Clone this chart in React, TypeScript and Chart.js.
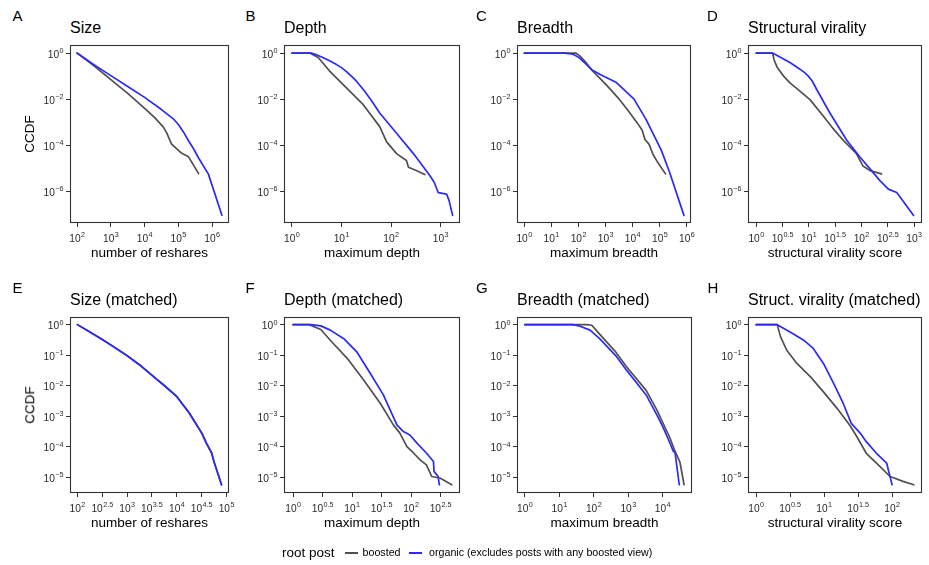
import React, { useEffect, useRef } from 'react';
import { Chart, registerables } from 'chart.js';

Chart.register(...registerables);

// ---------- data ----------
// A: Size
const sizeOrganicX = [100, 316, 1000, 3160, 10000, 31600, 70800, 100000, 141000, 200000, 282000, 398000, 776000, 1950000];
const sizeOrganicY = [1, 0.316, 0.105, 0.0355, 0.012, 0.00355, 0.00141, 0.000794, 0.00038, 0.000158, 7.08e-5, 2.82e-5, 5.62e-6, 9.3e-8];
const sizeBoostedX = [100, 316, 1000, 3160, 10000, 19950, 35500, 44700, 63100, 126000, 200000, 398000];
const sizeBoostedY = [1, 0.282, 0.0708, 0.0178, 0.00398, 0.00158, 0.000631, 0.000355, 0.000112, 4.47e-5, 3.16e-5, 5.89e-6];
// B: Depth
const depthOrganicX = [1, 2.45, 3.16, 3.98, 5.75, 7.94, 10, 12.6, 15.8, 20, 27.5, 39.8, 58.9, 129, 282, 603, 741, 891, 1320, 1480, 1740];
const depthOrganicY = [1, 1, 0.832, 0.676, 0.468, 0.316, 0.234, 0.158, 0.1, 0.0603, 0.0263, 0.00891, 0.00251, 0.000331, 4.37e-5, 4.9e-6, 2.51e-6, 8.91e-7, 7.59e-7, 3.98e-7, 9.12e-8];
const depthBoostedX = [1, 2.29, 3.39, 5.75, 12.6, 27.5, 58.9, 81.3, 129, 204, 224, 331, 479];
const depthBoostedY = [1, 1, 0.646, 0.166, 0.0309, 0.00575, 0.000646, 0.000141, 4.37e-5, 2.19e-5, 1.12e-5, 7.94e-6, 5.37e-6];
// C: Breadth
const breadthOrganicX = [1, 31.6, 63.1, 100, 178, 316, 631, 2510, 11200, 31600, 112000, 229000, 776000];
const breadthOrganicY = [1, 1, 0.891, 0.661, 0.355, 0.186, 0.117, 0.0525, 0.01, 0.00126, 6.31e-5, 6.76e-6, 9.12e-8];
const breadthBoostedX = [1, 79.4, 112, 200, 316, 1000, 3160, 6310, 15100, 22400, 28200, 39800, 56200, 79400, 162000];
const breadthBoostedY = [1, 1, 0.759, 0.355, 0.178, 0.0447, 0.01, 0.00355, 0.000891, 0.000447, 0.000178, 0.000112, 3.98e-5, 2.0e-5, 5.75e-6];
// D: Structural virality
const viralityOrganicX = [1, 2.04, 4.37, 6.76, 8.32, 9.77, 11.5, 14.1, 25.1, 52.5, 93.3, 155, 224, 324, 468, 977];
const viralityOrganicY = [1, 1, 0.389, 0.2, 0.141, 0.1, 0.0631, 0.0263, 0.00251, 0.000166, 3.09e-5, 7.94e-6, 2.95e-6, 1.26e-6, 8.91e-7, 9.12e-8];
const viralityBoostedX = [1, 2.04, 2.19, 2.51, 3.31, 4.37, 6.76, 10.5, 19.1, 29.5, 45.7, 79.4, 107, 145, 240];
const viralityBoostedY = [1, 1, 0.501, 0.234, 0.1, 0.0513, 0.0224, 0.00955, 0.00178, 0.000501, 0.000158, 4.47e-5, 1.26e-5, 7.94e-6, 5.75e-6];
// E: Size (matched)
const sizeMatchedOrganicX = [100, 178, 316, 562, 1000, 1780, 3160, 5620, 10000, 17800, 31600, 39800, 50100, 56200, 79400];
const sizeMatchedOrganicY = [1, 0.575, 0.324, 0.178, 0.0955, 0.0479, 0.0219, 0.01, 0.00437, 0.00126, 0.000282, 0.000126, 6.31e-5, 3.16e-5, 5.75e-6];
const sizeMatchedBoostedX = [100, 178, 316, 562, 1000, 1780, 3160, 5620, 10000, 17800, 31600, 39800, 50100, 56200, 79400];
const sizeMatchedBoostedY = [1, 0.575, 0.326, 0.18, 0.0965, 0.0486, 0.0223, 0.0102, 0.00445, 0.0013, 0.00029, 0.00013, 6.5e-5, 3.25e-5, 5.75e-6];
// F: Depth (matched)
const depthMatchedOrganicX = [1, 2, 2.95, 4.27, 7.24, 12.0, 20.4, 33.9, 57.5, 74.1, 95.5, 126, 182, 240, 245, 288, 302];
const depthMatchedOrganicY = [1, 1, 0.912, 0.661, 0.347, 0.129, 0.0251, 0.00501, 0.000525, 0.000316, 0.000245, 0.000132, 6.31e-5, 3.31e-5, 1.58e-5, 1.07e-5, 5.75e-6];
const depthMatchedBoostedX = [1, 1.86, 2.95, 4.27, 8.32, 15.8, 30.2, 50.1, 64.6, 85.1, 110, 141, 182, 224, 309, 490];
const depthMatchedBoostedY = [1, 1, 0.692, 0.309, 0.0776, 0.0151, 0.00263, 0.000525, 0.000282, 0.000102, 6.31e-5, 3.8e-5, 2.57e-5, 1.07e-5, 9.55e-6, 5.75e-6];
// G: Breadth (matched)
const breadthMatchedOrganicX = [1, 25.1, 39.8, 77.6, 145, 437, 891, 3310, 6760, 10000, 14100, 20400, 22900, 30200];
const breadthMatchedOrganicY = [1, 1, 0.891, 0.661, 0.355, 0.0955, 0.0324, 0.00501, 0.00112, 0.000457, 0.000191, 7.08e-5, 6.31e-5, 5.75e-6];
const breadthMatchedBoostedX = [1, 63.1, 87.1, 145, 437, 891, 3310, 6760, 16200, 22900, 31600, 41700];
const breadthMatchedBoostedY = [1, 1, 0.955, 0.501, 0.126, 0.0417, 0.00708, 0.00162, 0.000195, 7.08e-5, 3.16e-5, 5.75e-6];
// H: Struct. virality (matched)
const viralityMatchedOrganicX = [1, 2.04, 3.16, 5.01, 6.92, 9.77, 13.8, 19.1, 25.1, 33.9, 41.7, 58.9, 83.2, 89.1, 100];
const viralityMatchedOrganicY = [1, 1, 0.575, 0.309, 0.166, 0.0537, 0.012, 0.00263, 0.000589, 0.000282, 0.000148, 6.17e-5, 2.95e-5, 1.58e-5, 5.75e-6];
const viralityMatchedBoostedX = [1, 2.04, 2.29, 2.82, 3.98, 6.31, 9.77, 15.5, 24, 30.2, 41.7, 58.9, 93.3, 145, 209];
const viralityMatchedBoostedY = [1, 1, 0.398, 0.145, 0.0537, 0.0195, 0.00631, 0.00182, 0.000501, 0.000219, 6.17e-5, 2.95e-5, 1.07e-5, 7.41e-6, 5.75e-6];

// tick exponents (labels are 10^exp)
const sizeXTickExps = [2, 3, 4, 5, 6];
const depthXTickExps = [0, 1, 2, 3];
const breadthXTickExps = [0, 1, 2, 3, 4, 5, 6];
const viralityXTickExps = [0, 0.5, 1, 1.5, 2, 2.5, 3];
const ccdfYTickExps = [0, -2, -4, -6];
const sizeMatchedXTickExps = [2, 2.5, 3, 3.5, 4, 4.5, 5];
const depthMatchedXTickExps = [0, 0.5, 1, 1.5, 2, 2.5];
const breadthMatchedXTickExps = [0, 1, 2, 3, 4];
const viralityMatchedXTickExps = [0, 0.5, 1, 1.5, 2];
const ccdfMatchedYTickExps = [0, -1, -2, -3, -4, -5];

const seriesNames = ['boosted', 'organic (excludes posts with any boosted view)'];

// ---------- style ----------
const FONT = '"Liberation Sans", Arial, Helvetica, sans-serif';
const BOOSTED = '#505050';
const ORGANIC = '#2b2bf2';
const FRAME = '#333333';
const TICK_TEXT = '#2a2a2a';
const AXW = 50; // room left of the plot box for y tick labels
const AXH = 26; // room below the plot box
const PT = 4;
const PR = 10;

type PanelDef = {
  letter: string;
  letterX: number;
  title: string;
  xLabel: string;
  yLabel?: string;
  box: [number, number, number, number];
  xRange: [number, number];
  yRange: [number, number];
  xTicks: number[];
  yTicks: number[];
  boosted: [number[], number[]];
  organic: [number[], number[]];
};

const R1: [number, number] = [45, 223];
const R2: [number, number] = [317, 493];
const Y1: [number, number] = [-7.37, 0.35];
const Y2: [number, number] = [-5.51, 0.25];

const PANELS: PanelDef[] = [
  { letter: 'A', letterX: 12.5, title: 'Size', xLabel: 'number of reshares', yLabel: 'CCDF', box: [70, R1[0], 229, R1[1]], xRange: [1.79, 6.5], yRange: Y1, xTicks: sizeXTickExps, yTicks: ccdfYTickExps, boosted: [sizeBoostedX, sizeBoostedY], organic: [sizeOrganicX, sizeOrganicY] },
  { letter: 'B', letterX: 245.5, title: 'Depth', xLabel: 'maximum depth', box: [284, R1[0], 460, R1[1]], xRange: [-0.16, 3.39], yRange: Y1, xTicks: depthXTickExps, yTicks: ccdfYTickExps, boosted: [depthBoostedX, depthBoostedY], organic: [depthOrganicX, depthOrganicY] },
  { letter: 'C', letterX: 476, title: 'Breadth', xLabel: 'maximum breadth', box: [517, R1[0], 691, R1[1]], xRange: [-0.27, 6.15], yRange: Y1, xTicks: breadthXTickExps, yTicks: ccdfYTickExps, boosted: [breadthBoostedX, breadthBoostedY], organic: [breadthOrganicX, breadthOrganicY] },
  { letter: 'D', letterX: 707, title: 'Structural virality', xLabel: 'structural virality score', box: [748, R1[0], 922, R1[1]], xRange: [-0.157, 3.15], yRange: Y1, xTicks: viralityXTickExps, yTicks: ccdfYTickExps, boosted: [viralityBoostedX, viralityBoostedY], organic: [viralityOrganicX, viralityOrganicY] },
  { letter: 'E', letterX: 12.5, title: 'Size (matched)', xLabel: 'number of reshares', yLabel: 'CCDF', box: [70, R2[0], 229, R2[1]], xRange: [1.85, 5.05], yRange: Y2, xTicks: sizeMatchedXTickExps, yTicks: ccdfMatchedYTickExps, boosted: [sizeMatchedBoostedX, sizeMatchedBoostedY], organic: [sizeMatchedOrganicX, sizeMatchedOrganicY] },
  { letter: 'F', letterX: 245.5, title: 'Depth (matched)', xLabel: 'maximum depth', box: [284, R2[0], 460, R2[1]], xRange: [-0.14, 2.83], yRange: Y2, xTicks: depthMatchedXTickExps, yTicks: ccdfMatchedYTickExps, boosted: [depthMatchedBoostedX, depthMatchedBoostedY], organic: [depthMatchedOrganicX, depthMatchedOrganicY] },
  { letter: 'G', letterX: 476, title: 'Breadth (matched)', xLabel: 'maximum breadth', box: [517, R2[0], 692, R2[1]], xRange: [-0.23, 4.85], yRange: Y2, xTicks: breadthMatchedXTickExps, yTicks: ccdfMatchedYTickExps, boosted: [breadthMatchedBoostedX, breadthMatchedBoostedY], organic: [breadthMatchedOrganicX, breadthMatchedOrganicY] },
  { letter: 'H', letterX: 707.5, title: 'Struct. virality (matched)', xLabel: 'structural virality score', box: [748, R2[0], 922, R2[1]], xRange: [-0.12, 2.44], yRange: Y2, xTicks: viralityMatchedXTickExps, yTicks: ccdfMatchedYTickExps, boosted: [viralityMatchedBoostedX, viralityMatchedBoostedY], organic: [viralityMatchedOrganicX, viralityMatchedOrganicY] },
];

// ---------- plugin: frame + superscript tick labels ----------
const BASE_SIZE = 10.2;
const EXP_SIZE = 7.2;

function expText(v: number): string {
  const e = Math.round(Math.log10(v) * 10) / 10;
  return String(e).replace('-', '\u2212');
}

function drawPow(ctx: CanvasRenderingContext2D, x: number, baseline: number, v: number, align: 'center' | 'right') {
  const exp = expText(v);
  ctx.font = `${BASE_SIZE}px ${FONT}`;
  const wb = ctx.measureText('10').width;
  ctx.font = `${EXP_SIZE}px ${FONT}`;
  const we = ctx.measureText(exp).width;
  const total = wb + we + 0.4;
  const start = align === 'center' ? x - total / 2 : x - total;
  ctx.textAlign = 'left';
  ctx.textBaseline = 'alphabetic';
  ctx.fillStyle = TICK_TEXT;
  ctx.font = `${BASE_SIZE}px ${FONT}`;
  ctx.fillText('10', start, baseline);
  ctx.font = `${EXP_SIZE}px ${FONT}`;
  ctx.fillText(exp, start + wb + 0.4, baseline - 4.6);
}

const framePlugin = {
  id: 'frameAndTicks',
  afterDraw(chart: any) {
    const ctx: CanvasRenderingContext2D = chart.ctx;
    const a = chart.chartArea;
    ctx.save();
    ctx.strokeStyle = FRAME;
    ctx.lineWidth = 1.1;
    ctx.strokeRect(a.left + 0.5, a.top + 0.5, a.right - a.left - 1, a.bottom - a.top - 1);
    const xs = chart.scales.x;
    for (const tk of xs.ticks) {
      drawPow(ctx, xs.getPixelForValue(tk.value), a.bottom + 18.8, tk.value, 'center');
    }
    const ys = chart.scales.y;
    for (const tk of ys.ticks) {
      drawPow(ctx, a.left - 6.5, ys.getPixelForValue(tk.value) + 4.6, tk.value, 'right');
    }
    ctx.restore();
  },
};

function toPoints(xs: number[], ys: number[]) {
  return xs.map((x, i) => ({ x, y: ys[i] }));
}

function Panel({ def }: { def: PanelDef }) {
  const ref = useRef<HTMLCanvasElement>(null);
  const [l, t, r, b] = def.box;
  const cw = r - l + AXW + PR;
  const ch = b - t + PT + AXH;
  useEffect(() => {
    const grid = { display: true, drawOnChartArea: false, drawTicks: true, tickLength: 4, color: FRAME, lineWidth: 1 };
    const line = { borderWidth: 1.7, pointRadius: 0, tension: 0, borderJoinStyle: 'round', borderCapStyle: 'round' };
    const chart = new Chart(ref.current as HTMLCanvasElement, {
      type: 'line',
      data: {
        datasets: [
          { label: seriesNames[1], data: toPoints(def.organic[0], def.organic[1]), borderColor: ORGANIC, backgroundColor: ORGANIC, order: 0, ...line },
          { label: seriesNames[0], data: toPoints(def.boosted[0], def.boosted[1]), borderColor: BOOSTED, backgroundColor: BOOSTED, order: 1, ...line },
        ],
      },
      options: {
        animation: false,
        responsive: false,
        maintainAspectRatio: false,
        events: [],
        layout: { padding: { left: 0, top: PT, right: PR, bottom: 0 } },
        plugins: { legend: { display: false }, tooltip: { enabled: false }, title: { display: false } },
        scales: {
          x: {
            type: 'logarithmic',
            position: 'bottom',
            min: Math.pow(10, def.xRange[0]),
            max: Math.pow(10, def.xRange[1]),
            afterBuildTicks: (s: any) => { s.ticks = def.xTicks.map((e) => ({ value: Math.pow(10, e) })); },
            afterFit: (s: any) => { s.height = AXH; },
            ticks: { display: false },
            grid,
            border: { display: false },
          },
          y: {
            type: 'logarithmic',
            position: 'left',
            min: Math.pow(10, def.yRange[0]),
            max: Math.pow(10, def.yRange[1]),
            afterBuildTicks: (s: any) => { s.ticks = def.yTicks.map((e) => ({ value: Math.pow(10, e) })); },
            afterFit: (s: any) => { s.width = AXW; },
            ticks: { display: false },
            grid,
            border: { display: false },
          },
        },
      } as any,
      plugins: [framePlugin],
    } as any);
    return () => chart.destroy();
  }, []);
  return (
    <canvas
      ref={ref}
      width={cw}
      height={ch}
      style={{ position: 'absolute', left: l - AXW, top: t - PT, width: cw, height: ch }}
    />
  );
}

function Txt({ x, y, size, children, anchor = 'start' }: { x: number; y: number; size: number; children: React.ReactNode; anchor?: 'start' | 'middle' }) {
  return (
    <div
      style={{
        position: 'absolute',
        left: x,
        top: y - 0.8465 * size,
        fontSize: size,
        lineHeight: `${size}px`,
        fontFamily: FONT,
        color: '#000',
        whiteSpace: 'nowrap',
        transform: anchor === 'middle' ? 'translateX(-50%)' : undefined,
      }}
    >
      {children}
    </div>
  );
}

export default function App() {
  return (
    <div style={{ position: 'absolute', left: 0, top: 0, width: 929, height: 565, background: '#fff', overflow: 'hidden' }}>
      {PANELS.map((p) => {
        const [l, t, r, b] = p.box;
        return (
          <React.Fragment key={p.letter}>
            <Txt x={p.letterX} y={t - 24} size={15}>{p.letter}</Txt>
            <Txt x={l} y={t - 11} size={16}>{p.title}</Txt>
            <Panel def={p} />
            <Txt x={(l + r) / 2} y={b + 34} size={13.5} anchor="middle">{p.xLabel}</Txt>
            {p.yLabel ? (
              <div
                style={{
                  position: 'absolute',
                  left: 30,
                  top: (t + b) / 2,
                  fontSize: 13.5,
                  lineHeight: '13.5px',
                  fontFamily: FONT,
                  whiteSpace: 'nowrap',
                  transform: 'translate(-50%, -50%) rotate(-90deg)',
                }}
              >
                {p.yLabel}
              </div>
            ) : null}
          </React.Fragment>
        );
      })}
      {/* legend */}
      <Txt x={282} y={557} size={13.5}>root post</Txt>
      <div style={{ position: 'absolute', left: 345, top: 552, width: 13, height: 2, background: BOOSTED }} />
      <Txt x={362.5} y={556.5} size={10.7}>{seriesNames[0]}</Txt>
      <div style={{ position: 'absolute', left: 409, top: 552, width: 13, height: 2, background: ORGANIC }} />
      <Txt x={429} y={556.5} size={10.7}>{seriesNames[1]}</Txt>
    </div>
  );
}
